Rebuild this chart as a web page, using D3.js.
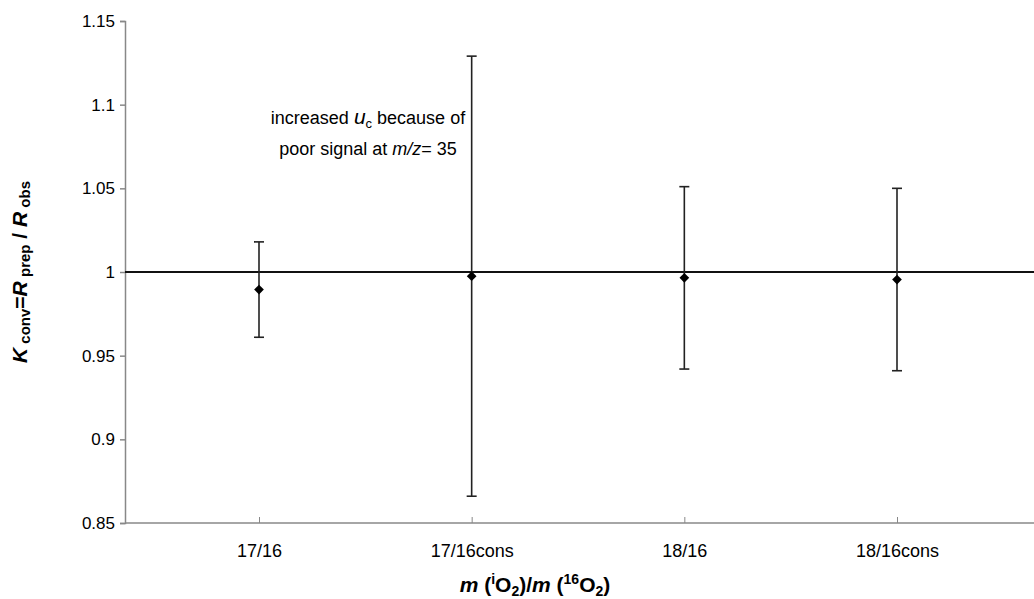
<!DOCTYPE html>
<html><head><meta charset="utf-8">
<script src="https://cdn.jsdelivr.net/npm/d3@7"></script>
<style>
body{margin:0;background:#fff;}
svg text{font-family:"Liberation Sans",Arial,sans-serif;}
</style></head>
<body><svg id="c" width="1034" height="599"></svg>
<script>
const categories = ["17/16","17/16cons","18/16","18/16cons"];
const values = [0.9895, 0.9975, 0.9965, 0.9955];
const errors = [0.0285, 0.1315, 0.0545, 0.0545];
const yTicks = [0.85,0.9,0.95,1,1.05,1.1,1.15];
const yTickLabels = ["0.85","0.9","0.95","1","1.05","1.1","1.15"];

const svg = d3.select("#c");
const AX = 125;
const x = d3.scaleLinear().domain([1,4]).range([259,897]);
const y = d3.scaleLinear().domain([0.85,1.15]).range([523,21]);

// y axis
const yAxis = d3.axisLeft(y).tickValues(yTicks).tickFormat((d,i)=>yTickLabels[i]).tickSize(5).tickPadding(5);
const gy = svg.append("g").attr("transform",`translate(${AX},0)`).call(yAxis);
gy.select(".domain").attr("stroke","#888").attr("stroke-width",1.5);
gy.selectAll(".tick line").attr("stroke","#888").attr("stroke-width",1.5);
gy.selectAll(".tick text").attr("font-size",17).attr("fill","#000").attr("font-family","'Liberation Sans',Arial,sans-serif");

// x axis
const xAxis = d3.axisBottom(x).tickValues([1,2,3,4]).tickFormat((d)=>categories[d-1]).tickSizeInner(-6).tickSizeOuter(0).tickPadding(21);
const gx = svg.append("g").attr("transform","translate(0,523)").call(xAxis);
gx.select(".domain").attr("d",`M${AX},0H1034`).attr("stroke","#888").attr("stroke-width",1.5);
gx.selectAll(".tick line").attr("stroke","#888").attr("stroke-width",1);
gx.selectAll(".tick text").attr("font-size",18).attr("fill","#000").attr("font-family","'Liberation Sans',Arial,sans-serif");

// reference line at 1
svg.append("line").attr("x1",AX).attr("x2",1034).attr("y1",y(1)).attr("y2",y(1))
  .attr("stroke","#111").attr("stroke-width",2);

// error bars
const data = categories.map((c,i)=>({c,i,v:values[i],e:errors[i]}));
const eb = svg.append("g").selectAll("g").data(data).join("g");
eb.append("line").attr("x1",d=>x(d.i+1)).attr("x2",d=>x(d.i+1))
  .attr("y1",d=>y(d.v+d.e)).attr("y2",d=>y(d.v-d.e)).attr("stroke","#222").attr("stroke-width",1.6);
eb.append("line").attr("x1",d=>x(d.i+1)-5).attr("x2",d=>x(d.i+1)+5)
  .attr("y1",d=>y(d.v+d.e)).attr("y2",d=>y(d.v+d.e)).attr("stroke","#222").attr("stroke-width",1.6);
eb.append("line").attr("x1",d=>x(d.i+1)-5).attr("x2",d=>x(d.i+1)+5)
  .attr("y1",d=>y(d.v-d.e)).attr("y2",d=>y(d.v-d.e)).attr("stroke","#222").attr("stroke-width",1.6);
eb.append("path").attr("d",d3.symbol().type(d3.symbolDiamond2).size(60))
  .attr("transform",d=>`translate(${x(d.i+1)},${y(d.v)})`).attr("fill","#000");

// annotation
const ann = svg.append("text").attr("text-anchor","middle").attr("font-size",18).attr("fill","#000");
const l1 = ann.append("tspan").attr("x",368).attr("y",124);
l1.append("tspan").text("increased ");
l1.append("tspan").attr("font-style","italic").attr("font-size",21).text("u");
l1.append("tspan").attr("font-size",13).attr("dy",4).text("c");
l1.append("tspan").attr("dy",-4).text(" because of");
const l2 = ann.append("tspan").attr("x",368).attr("y",155);
l2.append("tspan").text("poor signal at ");
l2.append("tspan").attr("font-style","italic").text("m/z");
l2.append("tspan").text("= 35");

// y title
const yt = svg.append("text").attr("transform","translate(27,272) rotate(-90)")
  .attr("text-anchor","middle").attr("font-size",21).attr("font-weight","bold").attr("fill","#000");
yt.append("tspan").attr("font-style","italic").text("K");
yt.append("tspan").attr("font-size",15).attr("dy",3).text(" conv");
yt.append("tspan").attr("dy",-3).text("=");
yt.append("tspan").attr("font-style","italic").text("R");
yt.append("tspan").attr("font-size",15).attr("dy",3).text(" prep");
yt.append("tspan").attr("dy",-3).text(" / ");
yt.append("tspan").attr("font-style","italic").text("R");
yt.append("tspan").attr("font-size",15).attr("dy",3).text(" obs");

// x title
const xt = svg.append("text").attr("x",535).attr("y",592).attr("text-anchor","middle")
  .attr("font-size",21).attr("font-weight","bold").attr("fill","#000");
xt.append("tspan").attr("font-style","italic").text("m");
xt.append("tspan").text(" (");
xt.append("tspan").attr("font-size",14).attr("dy",-8).text("i");
xt.append("tspan").attr("dy",8).text("O");
xt.append("tspan").attr("font-size",14).attr("dy",4).text("2");
xt.append("tspan").attr("dy",-4).text(")/");
xt.append("tspan").attr("font-style","italic").text("m");
xt.append("tspan").text(" (");
xt.append("tspan").attr("font-size",14).attr("dy",-8).text("16");
xt.append("tspan").attr("dy",8).text("O");
xt.append("tspan").attr("font-size",14).attr("dy",4).text("2");
xt.append("tspan").attr("dy",-4).text(")");
</script></body></html>
